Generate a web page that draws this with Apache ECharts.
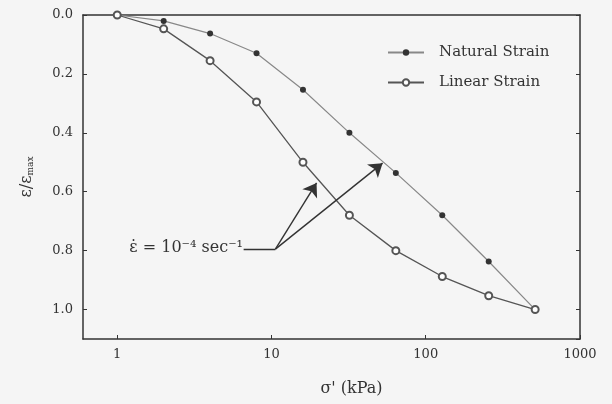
<!DOCTYPE html>
<html>
<head>
<meta charset="utf-8">
<script src="https://cdn.jsdelivr.net/npm/echarts@6/dist/echarts.min.js"></script>
<style>
  html, body { margin: 0; padding: 0; background: #f5f5f5; }
  #chart { width: 612px; height: 404px; }
</style>
</head>
<body>
<div id="chart"></div>
<script>
// effective stress, kPa (doubling steps)
const stress = [1, 2, 4, 8, 16, 32, 64, 128, 256, 512]
// normalised strain eps/eps_max
const naturalStrain = [0.0, 0.02, 0.063, 0.13, 0.254, 0.40, 0.536, 0.68, 0.837, 1.0]
const linearStrain = [0.0, 0.047, 0.155, 0.295, 0.50, 0.68, 0.80, 0.888, 0.953, 1.0]
const yTicks = [0.0, 0.2, 0.4, 0.6, 0.8, 1.0]

// annotation arrows (data coords)
const arrowStart = [10.6, 0.795]
const arrowTips = [[19.6, 0.57], [52.5, 0.503]]
const leaderStart = [6.6, 0.795]

const serif = '"DejaVu Serif", "Liberation Serif", serif'
const ink = '#333'

const chart = echarts.init(document.getElementById('chart'))

const pairs = (xs, ys) => xs.map((x, i) => [x, ys[i]])

const option = {
  backgroundColor: '#f5f5f5',
  animation: false,
  grid: { left: 83, top: 15, right: 32, bottom: 65 },
  legend: {
    orient: 'vertical',
    left: 382,
    top: 40,
    itemWidth: 36,
    itemHeight: 8,
    itemGap: 15,
    textStyle: { fontFamily: serif, fontSize: 15, color: ink, padding: [0, 0, 0, 10] },
    data: ['Natural Strain', 'Linear Strain']
  },
  xAxis: [{
    type: 'log',
    logBase: 10,
    min: 0.6,
    max: 1000,
    name: "σ' (kPa)",
    nameLocation: 'middle',
    nameGap: 42,
    nameTextStyle: { fontFamily: serif, fontSize: 16, color: ink, padding: [0, 0, 0, 40] },
    axisLine: { onZero: false, lineStyle: { color: ink, width: 1.5 } },
    axisTick: { inside: true, length: 4, lineStyle: { color: ink } },
    axisLabel: {
      fontFamily: serif, fontSize: 13, color: ink, margin: 9,
      showMinLabel: false,
      formatter: (v) => {
        const l = Math.log10(v)
        return Math.abs(l - Math.round(l)) < 1e-6 ? String(Math.round(v)) : ''
      }
    },
    splitLine: { show: false }
  }, {
    type: 'log',
    logBase: 10,
    min: 0.6,
    max: 1000,
    position: 'top',
    axisLine: { onZero: false, lineStyle: { color: ink, width: 1.5 } },
    axisTick: { show: false },
    axisLabel: { show: false },
    splitLine: { show: false }
  }],
  yAxis: [{
    type: 'value',
    inverse: true,
    min: 0,
    max: 1.1,
    interval: 0.2,
    name: '{a|ε/ε}{b|max}',
    nameLocation: 'middle',
    nameGap: 48,
    nameTextStyle: {
      rich: {
        a: { fontFamily: serif, fontSize: 16, color: ink },
        b: { fontFamily: serif, fontSize: 9, color: ink, verticalAlign: 'bottom', padding: [6, 0, 0, 0] }
      }
    },
    axisLine: { onZero: false, lineStyle: { color: ink, width: 1.5 } },
    axisTick: { inside: true, length: 4, lineStyle: { color: ink } },
    axisLabel: {
      fontFamily: serif, fontSize: 13, color: ink, margin: 10,
      showMaxLabel: false,
      formatter: (v) => {
        const hit = yTicks.find(t => Math.abs(t - v) < 1e-6)
        return hit === undefined ? '' : hit.toFixed(1)
      }
    },
    splitLine: { show: false }
  }, {
    type: 'value',
    inverse: true,
    min: 0,
    max: 1.1,
    interval: 0.2,
    position: 'right',
    axisLine: { show: true, onZero: false, lineStyle: { color: ink, width: 1.5 } },
    axisTick: { inside: true, length: 4, lineStyle: { color: ink } },
    axisLabel: { show: false },
    splitLine: { show: false }
  }],
  series: [{
    name: 'Natural Strain',
    type: 'line',
    data: pairs(stress, naturalStrain),
    symbol: 'circle',
    symbolSize: 6,
    itemStyle: { color: '#333' },
    lineStyle: { color: '#888', width: 1.2 },
    z: 2
  }, {
    name: 'Linear Strain',
    type: 'line',
    data: pairs(stress, linearStrain),
    symbol: 'emptyCircle',
    symbolSize: 7,
    itemStyle: { color: '#555', borderWidth: 1.2 },
    lineStyle: { color: '#555', width: 1.3 },
    z: 3,
    markLine: {
      silent: true,
      animation: false,
      label: { show: false },
      emphasis: { disabled: true },
      symbol: ['none', 'arrow'],
      symbolSize: 13,
      lineStyle: { color: '#333', width: 1.4, type: 'solid' },
      data: [
        [{ coord: leaderStart, symbol: 'none' }, { coord: arrowStart, symbol: 'none' }],
        [{ coord: arrowStart, symbol: 'none' }, { coord: arrowTips[0], symbol: 'arrow', symbolSize: 13 }],
        [{ coord: arrowStart, symbol: 'none' }, { coord: arrowTips[1], symbol: 'arrow', symbolSize: 13 }]
      ]
    }
  }],
  graphic: [{
    type: 'text',
    right: 612 - 243,
    top: 240,
    style: {
      text: 'ε̇ = 10⁻⁴ sec⁻¹',
      font: '16px ' + serif,
      fill: ink
    }
  }]
}

chart.setOption(option)
</script>
</body>
</html>
